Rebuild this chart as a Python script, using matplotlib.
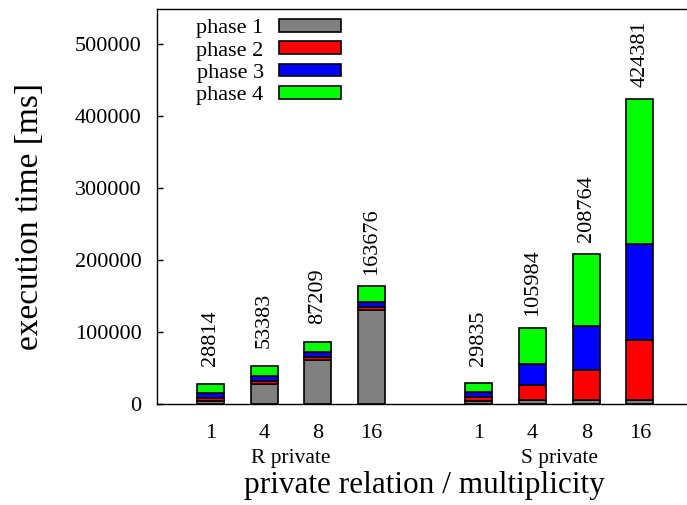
import matplotlib
matplotlib.use('Agg')
import matplotlib.pyplot as plt
import numpy as np

plt.rcParams['font.family'] = 'Liberation Serif'

multiplicity = ['1', '4', '8', '16']
groups = ['R private', 'S private']

# R private bars then S private bars
phase1 = [5100, 28200, 61100, 131000, 5000, 5600, 5600, 5600]
phase2 = [3700, 4200, 4200, 3500, 5100, 20800, 41600, 83300]
phase3 = [6900, 7400, 6900, 7000, 7000, 29600, 62000, 133300]
phase4 = [13114, 13583, 15009, 22176, 12735, 49984, 99564, 202181]

colors = ['#808080', '#ff0000', '#0000ff', '#00ff00']
names = ['phase 1', 'phase 2', 'phase 3', 'phase 4']

W, H = 687, 505
fig = plt.figure(figsize=(W / 100, H / 100), dpi=100)
ax = fig.add_axes([156.7 / W, 1 - 404.3 / H, (693.6 - 156.7) / W, (404.3 - 9) / H])

x = np.concatenate([np.arange(4), np.arange(4) + 5])
bottom = np.zeros(8)
for vals, c, n in zip([phase1, phase2, phase3, phase4], colors, names):
    ax.bar(x, vals, 0.5, bottom=bottom, color=c, edgecolor='black', linewidth=1.2, label=n)
    bottom += np.array(vals)

# totals above each bar
for xi, tot in zip(x, bottom):
    ax.annotate(str(int(tot)), (xi, tot), xytext=(0, 32.4), textcoords='offset points',
                rotation=90, ha='center', va='center', fontsize=16)

ax.set_xlim(-1, 9)
ax.set_ylim(0, 549000)
ax.set_yticks([0, 100000, 200000, 300000, 400000, 500000])
ax.set_xticks(x)
ax.set_xticklabels(multiplicity * 2)
ax.tick_params(axis='y', direction='in', length=4.3, width=1, labelsize=16, pad=11)
ax.tick_params(axis='x', length=0, labelsize=16, pad=14)
ax.spines['right'].set_visible(False)
for s in ['left', 'top', 'bottom']:
    ax.spines[s].set_linewidth(1)

for i, g in enumerate(groups):
    ax.text(1.5 + 5 * i, -0.1477, g, transform=ax.get_xaxis_transform(),
            ha='center', va='baseline', fontsize=15.5)

fig.text(424 / W, 1 - 493 / H, 'private relation / multiplicity', ha='center', va='baseline', fontsize=22.5)
fig.text(30 / W, 1 - 216.7 / H, 'execution time [ms]', rotation=90, ha='center', va='center', fontsize=24)

ax.legend(loc='upper left', bbox_to_anchor=(196.5 / W, 1 - 19 / H), bbox_transform=fig.transFigure,
          frameon=False, markerfirst=False, fontsize=16, handlelength=2.8, handleheight=0.5,
          handletextpad=0.68, labelspacing=0.14, borderpad=0, borderaxespad=0)

fig.savefig('out.png', dpi=100)
